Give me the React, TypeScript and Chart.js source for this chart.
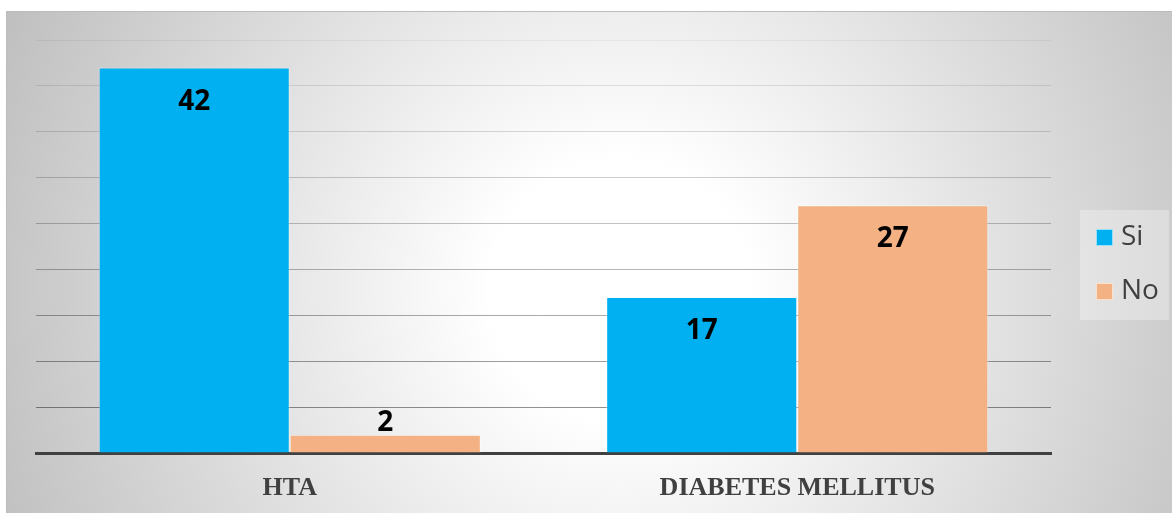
import React, { useEffect, useRef } from "react";
import { Chart, registerables } from "chart.js";

Chart.register(...registerables);

// Chart content
const categories = ["HTA", "DIABETES MELLITUS"];
const seriesNames = ["Si", "No"];
const siValues = [42, 17];
const noValues = [2, 27];
const seriesColors = ["#00B0F0", "#F4B183"];
const yMax = 45;
const yStep = 5;

const LABEL_FONT = "bold 28px 'Open Sans', sans-serif";
const LEGEND_FONT = "28px 'Open Sans', sans-serif";

// Shaded panel behind the whole chart
const panelBackground = {
  id: "panelBackground",
  beforeDraw(chart: any) {
    const { ctx, width, height } = chart;
    ctx.save();
    ctx.fillStyle = "#ffffff";
    ctx.fillRect(0, 0, width, height);
    const x0 = 6;
    const y0 = 11;
    const g = ctx.createRadialGradient(620, 290, 130, 620, 290, 700);
    g.addColorStop(0, "#ffffff");
    g.addColorStop(1, "#bcbcbc");
    ctx.fillStyle = g;
    ctx.fillRect(x0, y0, width - x0, height - y0);
    ctx.strokeStyle = "#bcbcbc";
    ctx.lineWidth = 1;
    ctx.strokeRect(x0 + 0.5, y0 + 0.5, width - x0, height - y0);
    ctx.restore();
  },
};

// Value labels: inside the top of tall bars, above short ones
const valueLabels = {
  id: "valueLabels",
  afterDatasetsDraw(chart: any) {
    const { ctx } = chart;
    ctx.save();
    ctx.font = LABEL_FONT;
    ctx.fillStyle = "#000000";
    ctx.textAlign = "center";
    ctx.textBaseline = "middle";
    chart.data.datasets.forEach((ds: any, di: number) => {
      const meta = chart.getDatasetMeta(di);
      meta.data.forEach((bar: any, i: number) => {
        const v = ds.data[i];
        const h = bar.base - bar.y;
        const y = h > 50 ? bar.y + 34 : bar.y - 12;
        ctx.fillText(String(v), bar.x, y);
      });
    });
    ctx.restore();
  },
};

// Legend box to the right of the plot
const sideLegend = {
  id: "sideLegend",
  afterDraw(chart: any) {
    const { ctx, chartArea } = chart;
    const left = chartArea.right + 29;
    const top = 210;
    const w = 89;
    const h = 110;
    ctx.save();
    ctx.fillStyle = "rgba(255,255,255,0.3)";
    ctx.fillRect(left, top, w, h);
    ctx.font = LEGEND_FONT;
    ctx.textAlign = "left";
    ctx.textBaseline = "middle";
    const rows = [237, 291];
    seriesNames.forEach((name, i) => {
      const cy = rows[i];
      ctx.fillStyle = seriesColors[i];
      ctx.fillRect(left + 16, cy - 8, 17, 17);
      ctx.strokeStyle = "rgba(255,255,255,0.6)";
      ctx.lineWidth = 1;
      ctx.strokeRect(left + 16.5, cy - 7.5, 16, 16);
      ctx.fillStyle = "#404040";
      ctx.fillText(name, left + 41, cy);
    });
    ctx.restore();
  },
};

function ChartView() {
  const canvasRef = useRef<HTMLCanvasElement | null>(null);

  useEffect(() => {
    if (!canvasRef.current) return;
    const chart = new Chart(canvasRef.current, {
      type: "bar",
      data: {
        labels: categories,
        datasets: [
          {
            label: seriesNames[0],
            data: siValues,
            backgroundColor: seriesColors[0],
            borderColor: "rgba(255,255,255,0.35)",
            borderWidth: 1,
            barPercentage: 1,
            categoryPercentage: 0.753,
          },
          {
            label: seriesNames[1],
            data: noValues,
            backgroundColor: seriesColors[1],
            borderColor: "rgba(255,255,255,0.45)",
            borderWidth: 1,
            barPercentage: 1,
            categoryPercentage: 0.753,
          },
        ],
      },
      options: {
        responsive: true,
        maintainAspectRatio: false,
        animation: false,
        layout: { padding: { left: 36, right: 121, top: 40, bottom: 0 } },
        plugins: {
          legend: { display: false },
          tooltip: { enabled: false },
        },
        scales: {
          x: {
            afterFit(scale: any) {
              scale.height = 60;
            },
            grid: { display: false, drawTicks: false },
            border: { display: true, color: "#404040", width: 3 },
            ticks: {
              color: "#404040",
              padding: 20,
              font: { family: "'Liberation Serif', 'Times New Roman', serif", size: 26, weight: "bold" },
            },
          },
          y: {
            min: 0,
            max: yMax,
            afterFit(scale: any) {
              scale.width = 0;
            },
            ticks: { display: false, stepSize: yStep },
            border: { display: false },
            grid: {
              drawTicks: false,
              lineWidth: 1,
              color: (c: any) => {
                const v = c.tick ? c.tick.value : 0;
                const a = 0.05 + ((yMax - v) / (yMax - yStep)) * 0.38;
                return `rgba(0,0,0,${Math.max(0, Math.min(0.5, a)).toFixed(3)})`;
              },
            },
          },
        },
      },
      plugins: [panelBackground, valueLabels, sideLegend],
    });
    return () => chart.destroy();
  }, []);

  return (
    <div style={{ position: "absolute", left: 0, top: 0, width: 1172, height: 513 }}>
      <canvas ref={canvasRef} />
    </div>
  );
}

export default function App() {
  return <ChartView />;
}
